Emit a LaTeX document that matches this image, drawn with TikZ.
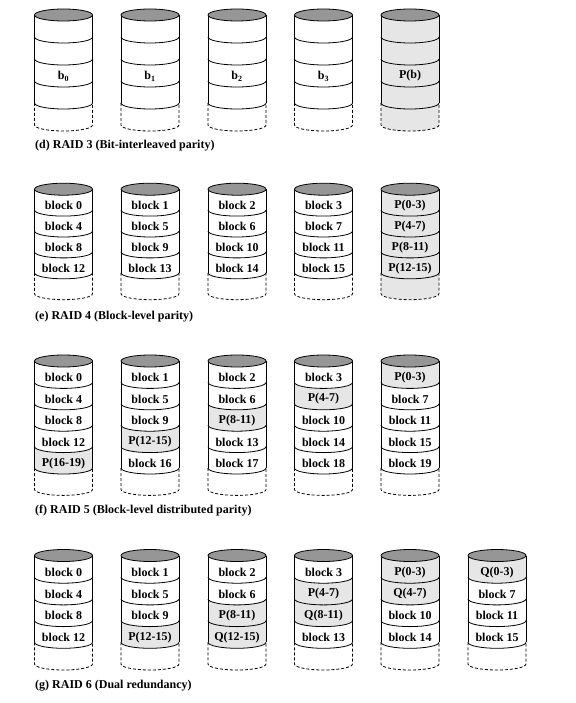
\documentclass[tikz,border=0pt]{standalone}
\usepackage{fontspec}
\setmainfont{Liberation Serif}
\definecolor{topgray}{RGB}{150,150,150}
\definecolor{pargray}{RGB}{230,230,230}
\tikzset{
 cylline/.style={line width=0.8pt, draw=black},
 dashline/.style={line width=0.8pt, draw=black, dash pattern=on 3pt off 2pt},
 lab/.style={font=\bfseries\fontsize{12}{14}\selectfont, inner sep=0pt},
 captext/.style={font=\bfseries\fontsize{12}{14}\selectfont, anchor=west, inner sep=0pt},
}
% #1 name, #2 cx, #3 yc, #4 h, #5 n, #6 dashed-part fill, #7 list fill/label
\newcommand{\Cyl}[7]{%
 \begin{scope}[shift={(#2,-#3)}]
  \foreach \f/\t [count=\k] in {#7} {
    \fill[\f] (-29,{-(\k-1)*#4}) arc[start angle=180,end angle=360,x radius=29pt,y radius=6pt]
      -- (29,{-\k*#4}) arc[start angle=360,end angle=180,x radius=29pt,y radius=6pt] -- cycle;
    \node[lab] (#1-\k) at (0,{-(\k-0.5)*#4-6}) {\t};
  }
  \fill[#6] (-29,{-#5*#4}) arc[start angle=180,end angle=360,x radius=29pt,y radius=6pt]
      -- (29,{-(#5+1)*#4}) arc[start angle=360,end angle=180,x radius=29pt,y radius=6pt] -- cycle;
  \foreach \k in {1,...,#5} {
    \draw[cylline] (-29,{-\k*#4}) arc[start angle=180,end angle=360,x radius=29pt,y radius=6pt];
  }
  \draw[cylline] (-29,0) -- (-29,{-#5*#4});
  \draw[cylline] (29,0) -- (29,{-#5*#4});
  \draw[dashline] (-29,{-#5*#4}) -- (-29,{-(#5+1)*#4})
     arc[start angle=180,end angle=360,x radius=29pt,y radius=6pt] -- (29,{-#5*#4});
  \filldraw[cylline, fill=topgray] (0,0) ellipse[x radius=29pt, y radius=6pt];
 \end{scope}}
\begin{document}
\begin{tikzpicture}[x=1pt,y=1pt]
\useasboundingbox (0,0) rectangle (575,-703);
% RAID 3
\Cyl{da}{63.5}{15}{22}{4}{white}{white/{},white/{},white/b\textsubscript{0},white/{}}
\Cyl{db}{150}{15}{22}{4}{white}{white/{},white/{},white/b\textsubscript{1},white/{}}
\Cyl{dc}{237}{15}{22}{4}{white}{white/{},white/{},white/b\textsubscript{2},white/{}}
\Cyl{dd}{323.5}{15}{22}{4}{white}{white/{},white/{},white/b\textsubscript{3},white/{}}
\Cyl{de}{410}{15}{22}{4}{pargray}{pargray/{},pargray/{},pargray/P(b),pargray/{}}
\node[captext] (capd) at (35,-146) {(d) RAID 3 (Bit-interleaved parity)};
% RAID 4
\Cyl{ea}{63.5}{189.2}{20.9}{4}{white}{white/block 0,white/block 4,white/block 8,white/block 12}
\Cyl{eb}{150}{189.2}{20.9}{4}{white}{white/block 1,white/block 5,white/block 9,white/block 13}
\Cyl{ec}{237}{189.2}{20.9}{4}{white}{white/block 2,white/block 6,white/block 10,white/block 14}
\Cyl{ed}{323.5}{189.2}{20.9}{4}{white}{white/block 3,white/block 7,white/block 11,white/block 15}
\Cyl{ee}{410}{189.2}{20.9}{4}{pargray}{pargray/P(0-3),pargray/P(4-7),pargray/P(8-11),pargray/P(12-15)}
\node[captext] (cape) at (35,-317) {(e) RAID 4 (Block-level parity)};
% RAID 5
\Cyl{fa}{63.5}{361}{21.4}{5}{white}{white/block 0,white/block 4,white/block 8,white/block 12,pargray/P(16-19)}
\Cyl{fb}{150}{361}{21.4}{5}{white}{white/block 1,white/block 5,white/block 9,pargray/P(12-15),white/block 16}
\Cyl{fc}{237}{361}{21.4}{5}{white}{white/block 2,white/block 6,pargray/P(8-11),white/block 13,white/block 17}
\Cyl{fd}{323.5}{361}{21.4}{5}{white}{white/block 3,pargray/P(4-7),white/block 10,white/block 14,white/block 18}
\Cyl{fe}{410}{361}{21.4}{5}{white}{pargray/P(0-3),white/block 7,white/block 11,white/block 15,white/block 19}
\node[captext] (capf) at (35,-511) {(f) RAID 5 (Block-level distributed parity)};
% RAID 6
\Cyl{ga}{63.5}{555.5}{21.7}{4}{white}{white/block 0,white/block 4,white/block 8,white/block 12}
\Cyl{gb}{150}{555.5}{21.7}{4}{white}{white/block 1,white/block 5,white/block 9,pargray/P(12-15)}
\Cyl{gc}{237}{555.5}{21.7}{4}{white}{white/block 2,white/block 6,pargray/P(8-11),pargray/Q(12-15)}
\Cyl{gd}{323.5}{555.5}{21.7}{4}{white}{white/block 3,pargray/P(4-7),pargray/Q(8-11),white/block 13}
\Cyl{ge}{410}{555.5}{21.7}{4}{white}{pargray/P(0-3),pargray/Q(4-7),white/block 10,white/block 14}
\Cyl{gf}{497}{555.5}{21.7}{4}{white}{pargray/Q(0-3),white/block 7,white/block 11,white/block 15}
\node[captext] (capg) at (35,-686) {(g) RAID 6 (Dual redundancy)};
\end{tikzpicture}
\end{document}
